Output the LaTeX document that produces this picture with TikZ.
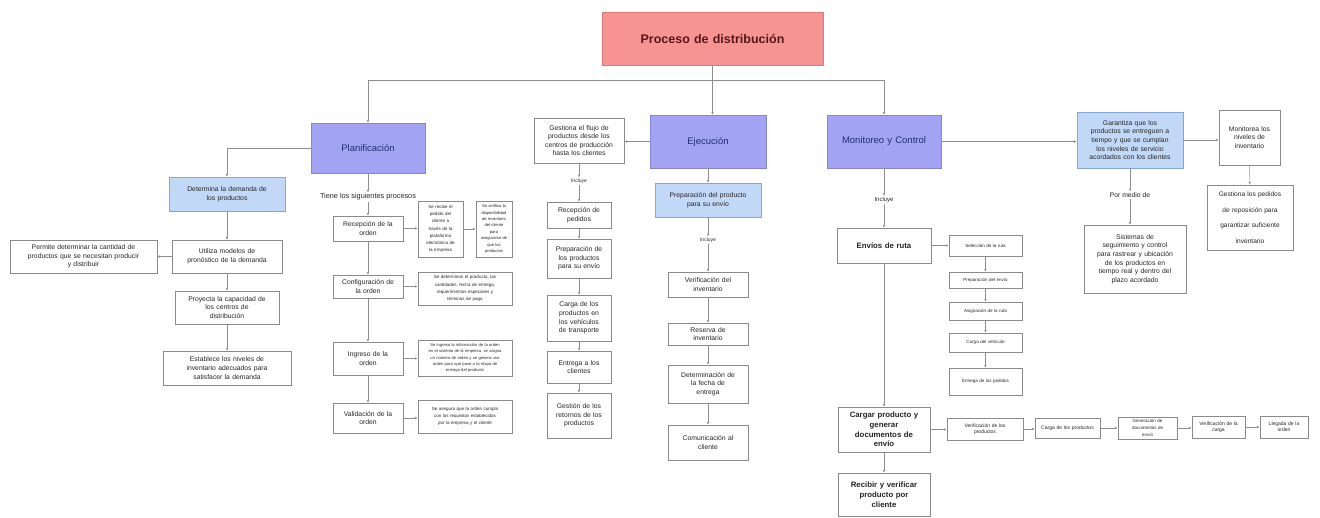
\documentclass[tikz,border=0pt]{standalone}
\usepackage{fontspec}
\setmainfont{Liberation Sans}
\usetikzlibrary{arrows.meta}

\definecolor{linegray}{HTML}{8E8E8E}
\definecolor{boxborder}{HTML}{8A8A8A}
\definecolor{hdrfill}{HTML}{A3A3F4}
\definecolor{hdrborder}{HTML}{8585D6}
\definecolor{hdrtext}{HTML}{22306E}
\definecolor{bluefill}{HTML}{C2D8F7}
\definecolor{blueborder}{HTML}{86A6D4}
\definecolor{titlefill}{HTML}{F69494}
\definecolor{titleborder}{HTML}{DC7878}
\definecolor{titletext}{HTML}{5A1616}
\definecolor{bodytext}{HTML}{262626}

% box given by its corners: [style]{name}{x1}{y1}{x2}{y2}{text}
\newcommand\bx[7][]{%
  \node[box,#1,minimum width={#5pt-#3pt},minimum height={#6pt-#4pt},
        text width={#5pt-#3pt-3pt}] (#2) at ({(#3+#5)/2},{(#4+#6)/2}) {#7};}

\begin{document}
\begin{tikzpicture}[x=1pt,y=-1pt,
  box/.style={draw=boxborder,line width=0.6pt,fill=white,align=center,
              inner sep=1.5pt,text=bodytext},
  hdr/.style={draw=hdrborder,fill=hdrfill,text=hdrtext,
              font=\fontsize{9.5}{11}\selectfont},
  bluebox/.style={draw=blueborder,fill=bluefill},
  titlebox/.style={draw=titleborder,fill=titlefill,text=titletext,
              font=\bfseries\fontsize{12.5}{14}\selectfont},
  lbl/.style={inner sep=1pt,text=bodytext},
  conn/.style={draw=linegray,line width=0.5pt,-{Latex[length=2.6pt,width=2.4pt]}},
  f4/.style={font=\fontsize{4.1}{6.4}\selectfont},
  f45/.style={font=\fontsize{4.5}{7.2}\selectfont},
  f5/.style={font=\fontsize{5}{6.4}\selectfont},
  f7/.style={font=\fontsize{6.8}{8.6}\selectfont},
  f7l/.style={font=\fontsize{6.8}{9.6}\selectfont},
  fb/.style={font=\bfseries\fontsize{7.8}{9.8}\selectfont},
]
\useasboundingbox (0,0) rectangle (1320,517);
\fill[white] (0,0) rectangle (1320,517);

% ---------- top level ----------
\bx[titlebox]{title}{602}{12}{823}{65}{Proceso de distribución}
\bx[hdr]{plan}{311}{123}{425}{173}{Planificación}
\bx[hdr]{ejec}{650}{115}{766}{168}{Ejecución}
\bx[hdr]{mon}{827}{115}{941}{168}{Monitoreo y Control}

% ---------- planificación: demanda ----------
\bx[bluebox,f7]{dem}{169}{177}{285}{211}{Determina la demanda de\\los productos}
\bx[f7]{util}{172}{240}{282}{273}{Utiliza modelos de\\pronóstico de la demanda}
\bx[f7]{perm}{10}{240}{157}{273}{Permite determinar la cantidad de\\productos que se necesitan producir\\y distribuir}
\bx[f7]{proy}{175}{291}{279}{324}{Proyecta la capacidad de\\los centros de\\distribución}
\bx[f7]{estab}{163}{351}{291}{385}{Establece los niveles de\\inventario adecuados para\\satisfacer la demanda}

% ---------- planificación: procesos ----------
\node[lbl,font=\fontsize{7.3}{9}\selectfont] (tiene) at (368,197) {Tiene los siguientes procesos};
\bx[f7]{recep}{333}{216}{403}{241}{Recepción de la\\orden}
\bx[f7]{config}{333}{275}{403}{298}{Configuración de\\la orden}
\bx[f7]{ingr}{333}{342}{403}{375}{Ingreso de la\\orden}
\bx[f7]{valid}{333}{403}{403}{433}{Validación de la\\orden}
\bx[f45]{rdA}{418}{201}{463}{257}{Se recibe el\\pedido del\\cliente a\\través de la\\plataforma\\electrónica de\\la empresa}
\bx[f4]{rdB}{476}{201}{512}{257}{Se verifica la\\disponibilidad\\de inventario\\del cliente\\para\\asegurarse de\\que los\\productos}
\bx[f45]{cd}{418}{272}{512}{305}{Se determinan el producto, las\\cantidades, fecha de entrega,\\requerimientos especiales y\\términos de pago}
\bx[f4]{idd}{418}{340}{512}{376}{Se ingresa la información de la orden\\en el sistema de la empresa, se asigna\\un número de orden y se genera una\\orden para que pase a la etapa de\\entrega del producto}
\bx[f45]{vd}{418}{400}{512}{433}{Se asegura que la orden cumpla\\con los requisitos establecidos\\por la empresa y el cliente}

% ---------- ejecución: flujo ----------
\bx[f7]{gest}{534}{118}{624}{163}{Gestiona el flujo de\\productos desde los\\centros de producción\\hasta los clientes}
\node[lbl,f5] (incA) at (579,181) {Incluye};
\bx[f7]{recp}{547}{202}{611}{228}{Recepción de\\pedidos}
\bx[f7]{prepl}{547}{239}{611}{278}{Preparación de\\los productos\\para su envío}
\bx[f7]{carg}{547}{295}{611}{341}{Carga de los\\productos en\\los vehículos\\de transporte}
\bx[f7]{entr}{547}{351}{611}{383}{Entrega a los\\clientes}
\bx[f7]{retor}{547}{393}{611}{438}{Gestión de los\\retornos de los\\productos}

% ---------- ejecución: preparación ----------
\bx[bluebox,f7]{prepb}{655}{183}{761}{217}{Preparación del producto\\para su envío}
\node[lbl,f5] (incB) at (708,240) {Incluye};
\bx[f7]{verif}{668}{272}{748}{297}{Verificación del\\inventario}
\bx[f7]{reserv}{668}{323}{748}{345}{Reserva de\\inventario}
\bx[f7]{determ}{668}{365}{748}{403}{Determinación de\\la fecha de\\entrega}
\bx[f7]{comun}{668}{425}{748}{460}{Comunicación al\\cliente}

% ---------- monitoreo y control ----------
\node[lbl,font=\fontsize{6}{7}\selectfont] (incC) at (884,200) {Incluye};
\bx[fb]{envios}{837}{228}{931}{263}{Envíos de ruta}
\bx[fb]{cargar}{838}{407}{930}{452}{Cargar producto y\\generar\\documentos de\\envío}
\bx[fb]{recib}{838}{473}{930}{516}{Recibir y verificar\\producto por\\cliente}

\bx[f45]{sel}{949}{235}{1022}{256}{Selección de la ruta}
\bx[f45]{prepe}{949}{272}{1022}{288}{Preparación del envío}
\bx[f45]{asig}{949}{302}{1022}{320}{Asignación de la ruta}
\bx[f45]{cargv}{949}{333}{1022}{352}{Carga del vehículo}
\bx[f45]{entp}{949}{368}{1022}{395}{Entrega de los pedidos}

\bx[f5]{vA}{947}{418}{1023}{440}{Verificación de los\\productos}
\bx[f5]{cA}{1035}{418}{1100}{438}{Carga de los productos}
\bx[f45]{gA}{1118}{417}{1177}{439}{Generación de\\documentos de\\envío}
\bx[f5]{vB}{1192}{416}{1245}{438}{Verificación de la\\carga}
\bx[f5]{lA}{1260}{416}{1308}{438}{Llegada de la\\orden}

\bx[bluebox,f7]{gar}{1077}{112}{1183}{168}{Garantiza que los\\productos se entreguen a\\tiempo y que se cumplan\\los niveles de servicio\\acordados con los clientes}
\bx[f7]{moni}{1219}{110}{1280}{165}{Monitorea los\\niveles de\\inventario}
\bx[f7,font=\fontsize{6.6}{15.5}\selectfont]{gestB}{1207}{185}{1293}{250}{Gestiona los pedidos\\de reposición para\\garantizar suficiente\\inventario}
\node[lbl,font=\fontsize{6.8}{8}\selectfont] (pm) at (1130,195) {Por medio de};
\bx[f7]{sis}{1084}{225}{1186}{293}{Sistemas de\\seguimiento y control\\para rastrear y ubicación\\de los productos en\\tiempo real y dentro del\\plazo acordado}

% ---------- connectors ----------
\draw[conn] (title.south) -- ++(0,15) -| (plan.north);
\draw[conn] (title.south) -- ++(0,15) -| (mon.north);
\draw[conn] (title.south) -- (title.south |- ejec.north);

\draw[conn] (plan.west) -| (dem.north);
\draw[conn] (dem) -- (util);
\draw[conn] (util) -- (perm);
\draw[conn] (util) -- (proy);
\draw[conn] (proy) -- (estab);

\draw[conn] (plan) -- (tiene);
\draw[conn] (tiene) -- (recep);
\draw[conn] (recep) -- (config);
\draw[conn] (config) -- (ingr);
\draw[conn] (ingr) -- (valid);
\draw[conn] (recep.east) -- (recep.east -| rdA.west);
\draw[conn] (rdA.east) -- (rdA.east -| rdB.west);
\draw[conn] (config.east) -- (config.east -| cd.west);
\draw[conn] (ingr.east) -- (ingr.east -| idd.west);
\draw[conn] (valid.east) -- (valid.east -| vd.west);

\draw[conn] (ejec.west) -- (ejec.west -| gest.east);
\draw[conn] (gest) -- (incA);
\draw[conn] (incA) -- (recp);
\draw[conn] (recp) -- (prepl);
\draw[conn] (prepl) -- (carg);
\draw[conn] (carg) -- (entr);
\draw[conn] (entr) -- (retor);

\draw[conn] (ejec) -- (prepb);
\draw[conn] (prepb) -- (incB);
\draw[conn] (incB) -- (verif);
\draw[conn] (verif) -- (reserv);
\draw[conn] (reserv) -- (determ);
\draw[conn] (determ) -- (comun);

\draw[conn] (mon.east) -- (mon.east -| gar.west);
\draw[conn] (gar.east) -- (gar.east -| moni.west);
\draw[conn] (moni) -- (gestB);
\draw[conn] (gar) -- (pm);
\draw[conn] (pm) -- (pm |- sis.north);

\draw[conn] (mon) -- (incC);
\draw[conn] (incC) -- (envios);
\draw[conn] (envios.east) -- (envios.east -| sel.west);
\draw[conn] (sel) -- (prepe);
\draw[conn] (prepe) -- (asig);
\draw[conn] (asig) -- (cargv);
\draw[conn] (cargv) -- (entp);
\draw[conn] (envios) -- (cargar);
\draw[conn] (cargar) -- (recib);
\draw[conn] (cargar.east) -- (cargar.east -| vA.west);
\draw[conn] (vA.east) -- (vA.east -| cA.west);
\draw[conn] (cA.east) -- (cA.east -| gA.west);
\draw[conn] (gA.east) -- (gA.east -| vB.west);
\draw[conn] (vB.east) -- (vB.east -| lA.west);
\end{tikzpicture}
\end{document}
